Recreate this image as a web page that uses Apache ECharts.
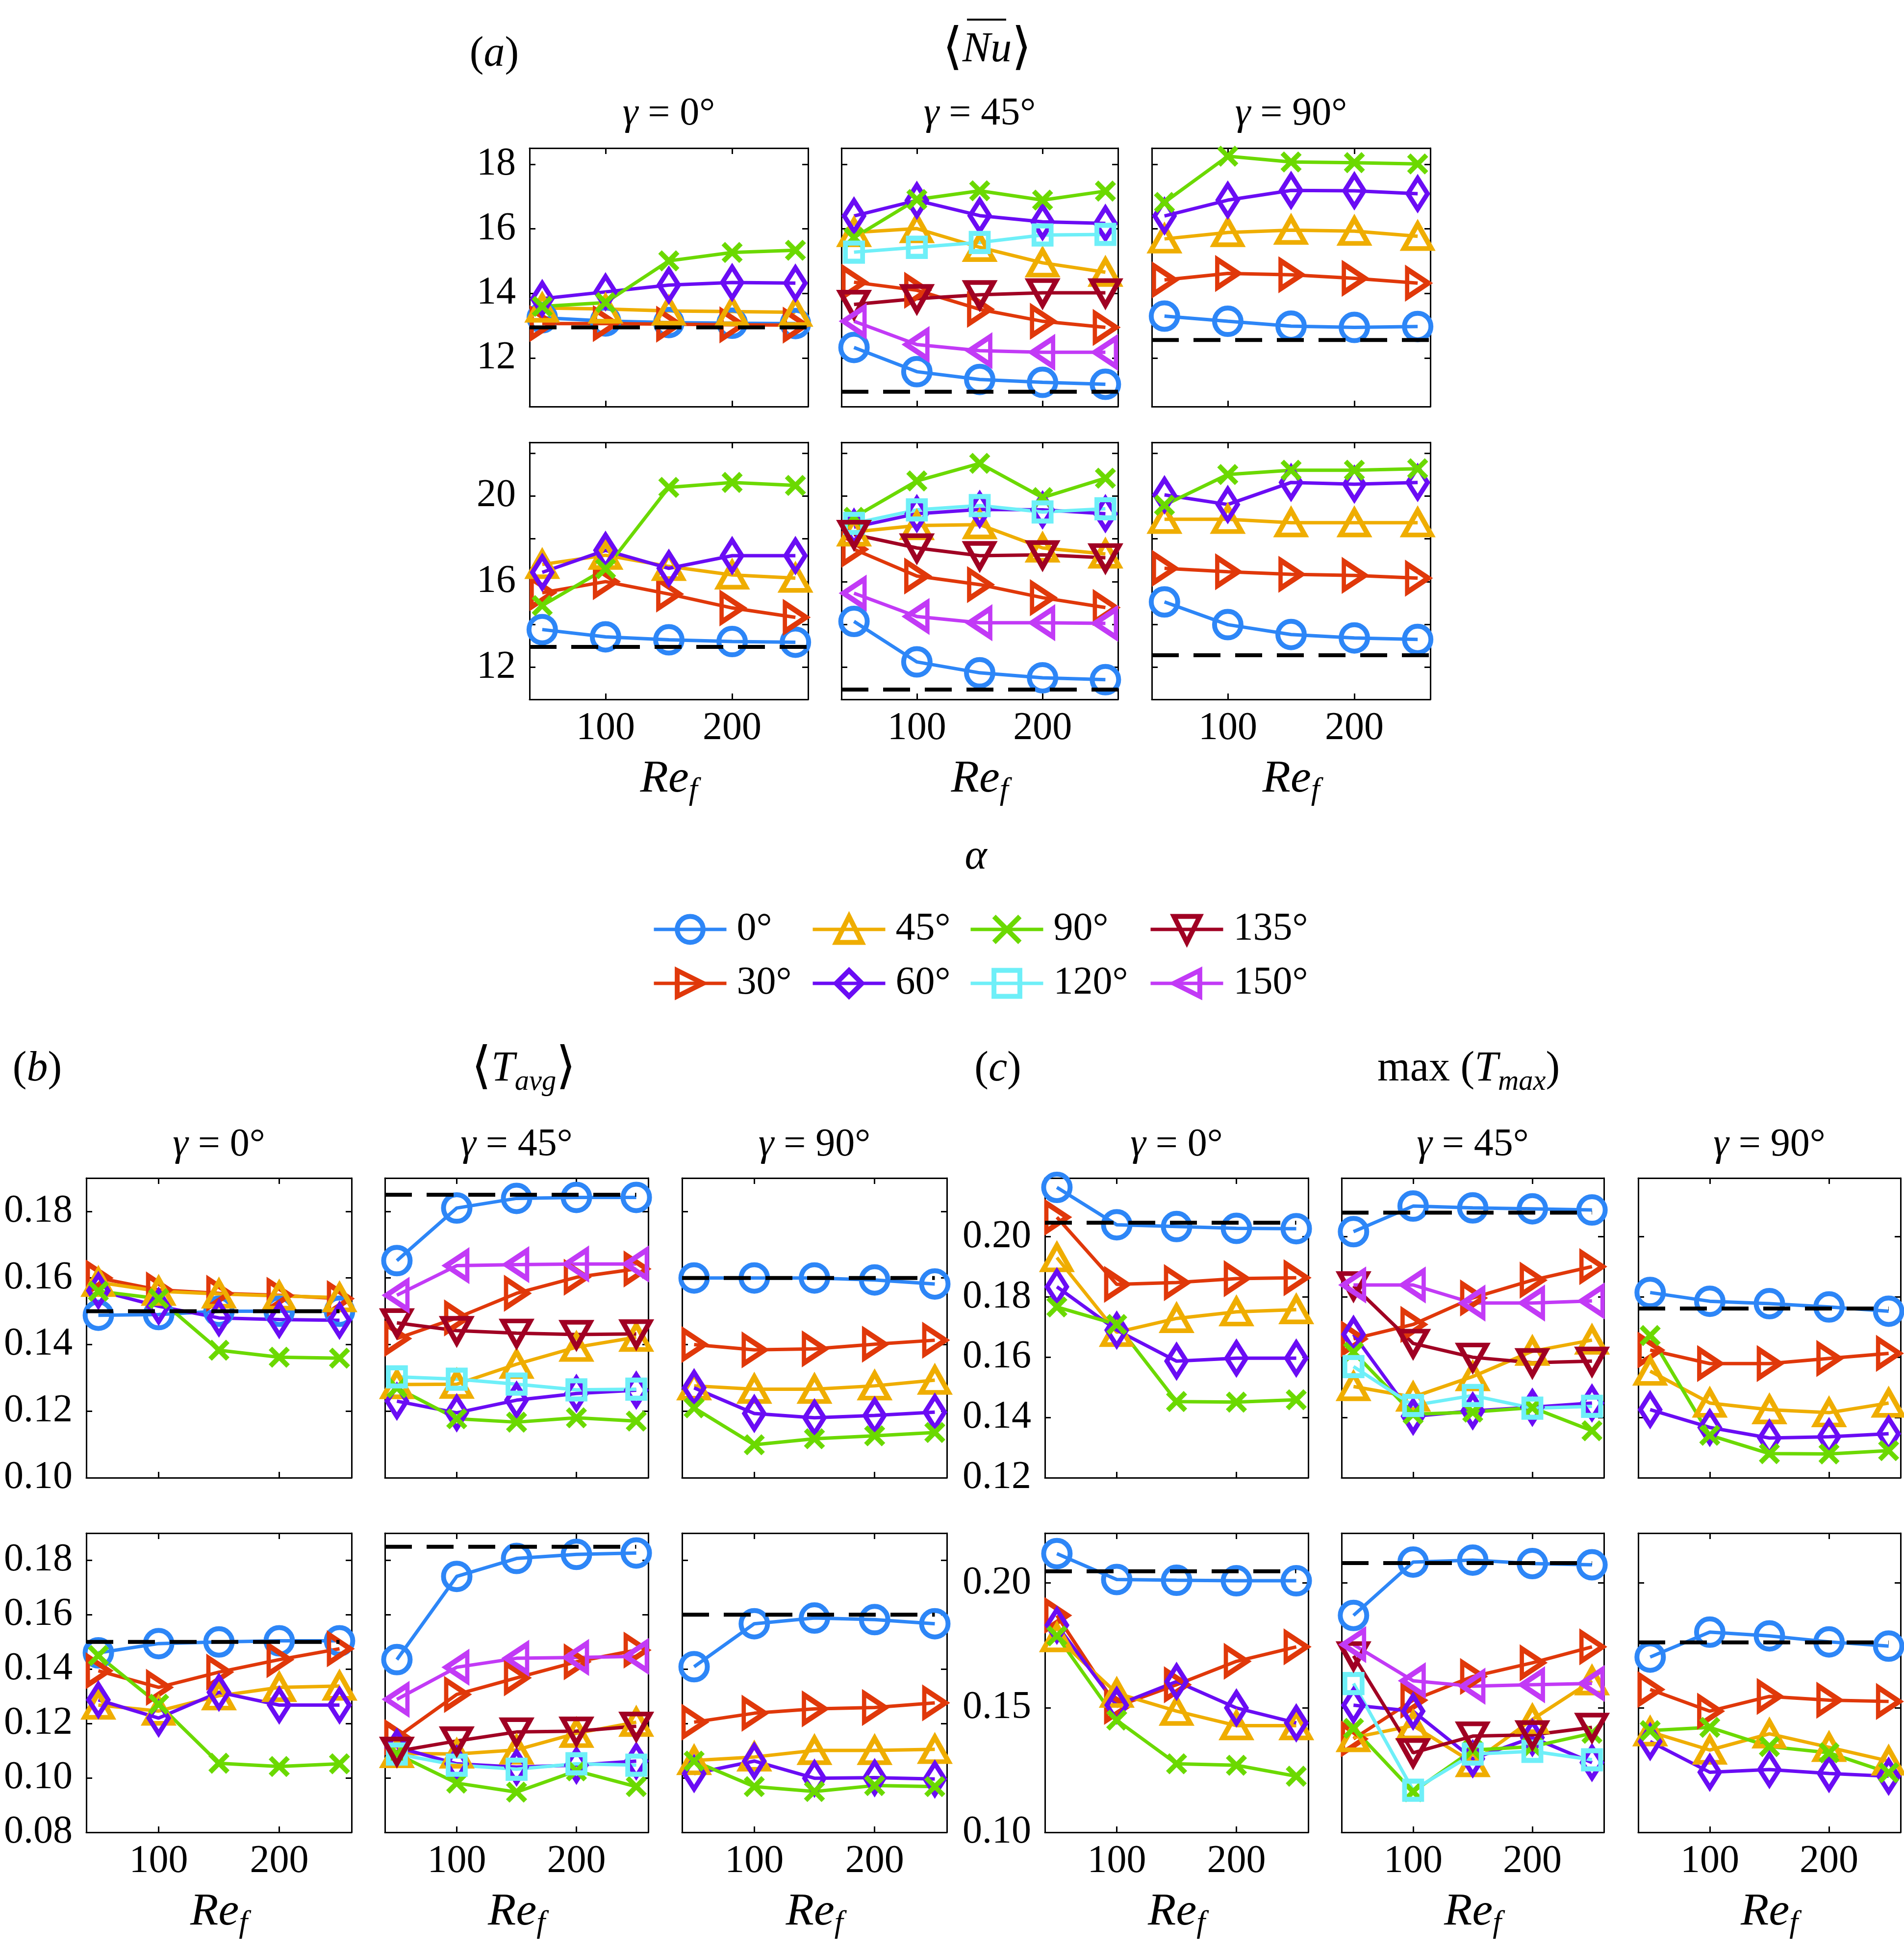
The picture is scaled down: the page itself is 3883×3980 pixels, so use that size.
<!DOCTYPE html>
<html>
<head>
<meta charset="utf-8">
<script src="https://cdn.jsdelivr.net/npm/echarts@6/dist/echarts.min.js"></script>
<style>
  html, body { margin: 0; padding: 0; background: #fff; }
  #chart { width: 3883px; height: 3980px; }
</style>
</head>
<body>
<div id="chart"></div>
<script>
// Reynolds numbers on every x axis
var reValues = [50, 100, 150, 200, 250];
var alphaNames = ['0°', '30°', '45°', '60°', '90°', '120°', '135°', '150°'];
var gammaTitles = ['0°', '45°', '90°'];
var xTickLabels = [100, 200];

// (a) <Nu>, order of rows in each array follows alphaNames
var nuTopG0 = [
  [13.25, 13.15, 13.1, 13.08, 13.07],
  [13.07, 13.07, 13.05, 13.03, 13.02],
  [13.55, 13.52, 13.46, 13.44, 13.42],
  [13.84, 14.05, 14.26, 14.34, 14.32],
  [13.6, 13.72, 15.01, 15.27, 15.34],
  null, null, null
];
var nuTopG45 = [
  [12.33, 11.58, 11.34, 11.25, 11.19],
  [14.35, 14.1, 13.51, 13.14, 12.95],
  [15.89, 16.01, 15.43, 14.95, 14.66],
  [16.4, 16.88, 16.41, 16.22, 16.17],
  [15.73, 16.91, 17.18, 16.89, 17.17],
  [15.28, 15.43, 15.58, 15.81, 15.83],
  [13.66, 13.84, 13.96, 14.02, 14.02],
  [13.14, 12.42, 12.23, 12.18, 12.18]
];
var nuTopG90 = [
  [13.3, 13.14, 12.99, 12.95, 12.98],
  [14.42, 14.62, 14.58, 14.47, 14.32],
  [15.69, 15.89, 15.96, 15.93, 15.77],
  [16.4, 16.89, 17.19, 17.18, 17.09],
  [16.82, 18.25, 18.07, 18.05, 18.01],
  null, null, null
];
var nuBotG0 = [
  [13.76, 13.42, 13.28, 13.2, 13.17],
  [15.48, 16.0, 15.42, 14.77, 14.33],
  [16.8, 17.23, 16.71, 16.31, 16.16],
  [16.43, 17.46, 16.62, 17.21, 17.21],
  [14.88, 16.6, 20.4, 20.63, 20.49],
  null, null, null
];
var nuBotG45 = [
  [14.14, 12.25, 11.74, 11.51, 11.42],
  [17.51, 16.26, 15.86, 15.25, 14.79],
  [18.32, 18.62, 18.66, 17.57, 17.29],
  [18.54, 19.17, 19.37, 19.35, 19.17],
  [19.0, 20.7, 21.52, 19.92, 20.83],
  [18.72, 19.35, 19.55, 19.25, 19.4],
  [18.2, 17.57, 17.21, 17.25, 17.11],
  [15.46, 14.37, 14.08, 14.08, 14.05]
];
var nuBotG90 = [
  [15.05, 13.99, 13.53, 13.37, 13.3],
  [16.62, 16.46, 16.34, 16.29, 16.16],
  [18.91, 18.91, 18.75, 18.75, 18.75],
  [20.05, 19.6, 20.63, 20.55, 20.63],
  [19.57, 21.0, 21.2, 21.2, 21.27],
  null, null, null
];

// (b) <T_avg>
var tavgTopG0 = [
  [0.1488, 0.149, 0.150, 0.150, 0.150],
  [0.160, 0.1564, 0.1554, 0.1548, 0.1538],
  [0.1587, 0.156, 0.1552, 0.1546, 0.1541],
  [0.1562, 0.1515, 0.148, 0.1475, 0.1473],
  [0.156, 0.1538, 0.1383, 0.1362, 0.1359],
  null, null, null
];
var tavgTopG45 = [
  [0.1652, 0.181, 0.1839, 0.1842, 0.1842],
  [0.1418, 0.148, 0.1554, 0.1602, 0.1627],
  [0.128, 0.1281, 0.1341, 0.1392, 0.1422],
  [0.123, 0.1195, 0.1233, 0.1253, 0.1263],
  [0.127, 0.1177, 0.1167, 0.118, 0.117],
  [0.1303, 0.1296, 0.1281, 0.1264, 0.1266],
  [0.1465, 0.1442, 0.1434, 0.143, 0.1432],
  [0.1548, 0.1637, 0.164, 0.1642, 0.1642]
];
var tavgTopG90 = [
  [0.160, 0.160, 0.160, 0.1594, 0.1582],
  [0.140, 0.1384, 0.1387, 0.1401, 0.1413],
  [0.1276, 0.1266, 0.1266, 0.1276, 0.1293],
  [0.127, 0.1193, 0.118, 0.1187, 0.1197],
  [0.121, 0.1099, 0.1117, 0.1126, 0.1136],
  null, null, null
];
var tavgBotG0 = [
  [0.146, 0.1494, 0.150, 0.1504, 0.1504],
  [0.1394, 0.1333, 0.1389, 0.1435, 0.1475],
  [0.1268, 0.1246, 0.1302, 0.1333, 0.1338],
  [0.1287, 0.122, 0.1315, 0.1268, 0.1268],
  [0.145, 0.1271, 0.1054, 0.1042, 0.1052],
  null, null, null
];
var tavgBotG45 = [
  [0.1435, 0.1741, 0.1807, 0.1822, 0.1827],
  [0.1149, 0.1307, 0.1368, 0.1427, 0.147],
  [0.109, 0.1088, 0.1103, 0.1164, 0.1205],
  [0.1113, 0.1052, 0.104, 0.1047, 0.1062],
  [0.1088, 0.0981, 0.0948, 0.1026, 0.0968],
  [0.1088, 0.1047, 0.1032, 0.1052, 0.1047],
  [0.1098, 0.1136, 0.1169, 0.1172, 0.119],
  [0.1289, 0.1407, 0.144, 0.1443, 0.1447]
];
var tavgBotG90 = [
  [0.1409, 0.1567, 0.1588, 0.1582, 0.1567],
  [0.1205, 0.1238, 0.1254, 0.1259, 0.1276],
  [0.1064, 0.1077, 0.1101, 0.1101, 0.1105],
  [0.1016, 0.1062, 0.0999, 0.1001, 0.0996],
  [0.1062, 0.0968, 0.095, 0.0972, 0.0968],
  null, null, null
];

// (c) max(T_max)
var tmaxTopG0 = [
  [0.2164, 0.204, 0.2034, 0.2028, 0.2027],
  [0.2065, 0.1842, 0.1848, 0.1861, 0.1864],
  [0.1931, 0.1683, 0.1729, 0.1751, 0.1758],
  [0.1834, 0.169, 0.1587, 0.1597, 0.1597],
  [0.1767, 0.1709, 0.1453, 0.1451, 0.1459],
  null, null, null
];
var tmaxTopG45 = [
  [0.2017, 0.2102, 0.2096, 0.2093, 0.2089],
  [0.1661, 0.1709, 0.1797, 0.1856, 0.1901],
  [0.1503, 0.1468, 0.1536, 0.162, 0.1657],
  [0.1676, 0.1404, 0.1422, 0.1434, 0.1448],
  [0.1617, 0.1411, 0.1418, 0.1433, 0.1356],
  [0.1569, 0.144, 0.1473, 0.1431, 0.1437],
  [0.1837, 0.1646, 0.16, 0.1582, 0.1587],
  [0.184, 0.184, 0.178, 0.178, 0.1787]
];
var tmaxTopG90 = [
  [0.1815, 0.1786, 0.1778, 0.1767, 0.1753],
  [0.1624, 0.1579, 0.1579, 0.1596, 0.1613],
  [0.1554, 0.1448, 0.1426, 0.1416, 0.1448],
  [0.1426, 0.1367, 0.1332, 0.1336, 0.1346],
  [0.1672, 0.1341, 0.128, 0.1279, 0.129],
  null, null, null
];
var tmaxBotG0 = [
  [0.2118, 0.2014, 0.2011, 0.2009, 0.2009],
  [0.187, 0.1505, 0.1592, 0.1686, 0.1744],
  [0.1781, 0.1558, 0.1486, 0.1428, 0.1428],
  [0.1831, 0.151, 0.1605, 0.1499, 0.1439],
  [0.1788, 0.145, 0.1275, 0.1269, 0.1225],
  null, null, null
];
var tmaxBotG45 = [
  [0.187, 0.2084, 0.2092, 0.2078, 0.2073],
  [0.1375, 0.153, 0.1625, 0.168, 0.1744],
  [0.138, 0.1428, 0.128, 0.1453, 0.1608],
  [0.151, 0.1486, 0.1295, 0.138, 0.128],
  [0.1417, 0.1163, 0.133, 0.1344, 0.1397],
  [0.1597, 0.1169, 0.1314, 0.1325, 0.1291],
  [0.1708, 0.1319, 0.1386, 0.1391, 0.1421],
  [0.1753, 0.1608, 0.1586, 0.1592, 0.1597]
];
var tmaxBotG90 = [
  [0.1703, 0.1803, 0.1788, 0.1764, 0.1747],
  [0.1573, 0.1486, 0.1545, 0.153, 0.1525],
  [0.1403, 0.133, 0.1395, 0.1341, 0.1286],
  [0.1364, 0.1241, 0.1252, 0.1236, 0.1225],
  [0.1408, 0.1421, 0.1344, 0.1319, 0.1239],
  null, null, null
];

// dashed reference levels, one per gamma
var nuRef = [12.95, 10.96, 12.56];
var tavgRef = [0.150, 0.185, 0.160];
var tmaxRef = [0.2047, 0.2080, 0.1762];

// y tick labels
var nuTopTicks = [12, 14, 16, 18];
var nuBotTicks = [12, 16, 20];
var tavgTopTicks = [0.10, 0.12, 0.14, 0.16, 0.18];
var tavgBotTicks = [0.08, 0.10, 0.12, 0.14, 0.16, 0.18];
var tmaxTopTicks = [0.12, 0.14, 0.16, 0.18, 0.20];
var tmaxBotTicks = [0.10, 0.15, 0.20];

var FONT = '"Liberation Serif", "Times New Roman", serif';
var alphaColors = ['#2D86F7', '#E0380A', '#EFAD00', '#6A0CF4', '#6BD900', '#6EEFF8', '#A00023', '#C23AF6'];
var alphaSymbols = [
  'circle',
  'path://M0,0L10,5L0,10Z',
  'path://M5,0L10,10L0,10Z',
  'diamond',
  'path://M0,0L10,10M10,0L0,10',
  'rect',
  'path://M0,0L10,0L5,10Z',
  'path://M10,0L0,5L10,10Z'
];
var alphaSizes = [54, [43, 57], [56, 50], [40, 63], [36, 36], [35, 37], [56, 50], [43, 57]];
var LINE_W = 7, MARK_W = 10;

var blocks = [
  {
    panels: [[nuTopG0, nuTopG45, nuTopG90], [nuBotG0, nuBotG45, nuBotG90]],
    ref: nuRef, refEnd: 260, digits: 0,
    yMin: [10.5, 10.5], yMax: [18.5, 22.5], split: [4, 6], ticks: [nuTopTicks, nuBotTicks],
    cols: [[1080, 1648], [1716, 2280], [2349, 2917]],
    rows: [[302, 829], [902, 1426]]
  },
  {
    panels: [[tavgTopG0, tavgTopG45, tavgTopG90], [tavgBotG0, tavgBotG45, tavgBotG90]],
    ref: tavgRef, refEnd: 250, digits: 2,
    yMin: [0.10, 0.08], yMax: [0.19, 0.19], split: [5, 5], ticks: [tavgTopTicks, tavgBotTicks],
    cols: [[176, 717], [785, 1322], [1391, 1931]],
    rows: [[2402, 3013], [3126, 3736]]
  },
  {
    panels: [[tmaxTopG0, tmaxTopG45, tmaxTopG90], [tmaxBotG0, tmaxBotG45, tmaxBotG90]],
    ref: tmaxRef, refEnd: 250, digits: 2,
    yMin: [0.12, 0.10], yMax: [0.2195, 0.22], split: [5, 3], ticks: [tmaxTopTicks, tmaxBotTicks],
    cols: [[2131, 2668], [2736, 3271], [3341, 3876]],
    rows: [[2402, 3013], [3126, 3736]]
  }
];

function inList(v, list) {
  for (var k = 0; k < list.length; k++) {
    if (Math.abs(v - list[k]) < 1e-9) return true;
  }
  return false;
}

function richFor(size) {
  return {
    i: { fontSize: size, fontFamily: FONT, fontStyle: 'italic', lineHeight: size * 1.3, color: '#000' },
    n: { fontSize: size, fontFamily: FONT, lineHeight: size * 1.3, color: '#000' },
    b: { fontSize: size * 1.2, fontFamily: '"DejaVu Serif", serif', lineHeight: size * 1.3, color: '#000' },
    s: { fontSize: size * 0.68, fontFamily: FONT, fontStyle: 'italic', lineHeight: size * 0.68, verticalAlign: 'bottom', color: '#000' }
  };
}

function label(x, y, text, size) {
  return {
    type: 'text', x: x, y: y, silent: true,
    style: {
      text: text, fontSize: size, fontFamily: FONT, fill: '#000',
      align: 'center', verticalAlign: 'middle',
      textAlign: 'center', textVerticalAlign: 'middle',
      rich: richFor(size)
    }
  };
}

var grids = [], xAxes = [], yAxes = [], series = [], graphics = [];
var axisLineStyle = { show: true, onZero: false, lineStyle: { color: '#000', width: 3 } };
var axisTickStyle = { show: true, inside: true, length: 12, lineStyle: { color: '#000', width: 3 } };

blocks.forEach(function (blk, b) {
  for (var r = 0; r < 2; r++) {
    for (var c = 0; c < 3; c++) {
      var g = grids.length;
      var col = blk.cols[c], row = blk.rows[r];
      grids.push({ left: col[0], top: row[0], width: col[1] - col[0], height: row[1] - row[0], containLabel: false });

      var ticks = blk.ticks[r], digits = blk.digits;
      var showX = r === 1;
      xAxes.push({
        type: 'value', gridIndex: g, position: 'bottom', min: 40, max: 260, splitNumber: 2,
        axisLine: axisLineStyle, axisTick: axisTickStyle, splitLine: { show: false },
        axisLabel: {
          show: showX, margin: 20, fontSize: 80, fontFamily: FONT, color: '#000',
          formatter: function (v) { return inList(v, xTickLabels) ? String(v) : ''; }
        },
        name: showX ? '{i|Re}{s|f}' : '', nameLocation: 'middle', nameGap: 108,
        nameTextStyle: {
          rich: {
            i: { fontSize: 94, fontFamily: FONT, fontStyle: 'italic', lineHeight: 110, color: '#000' },
            s: { fontSize: 64, fontFamily: FONT, fontStyle: 'italic', lineHeight: 64, verticalAlign: 'bottom', color: '#000' }
          }
        }
      });
      xAxes.push({
        type: 'value', gridIndex: g, position: 'top', min: 40, max: 260, splitNumber: 2,
        axisLine: axisLineStyle, axisTick: axisTickStyle, splitLine: { show: false },
        axisLabel: { show: false }
      });
      (function (ticks, digits) {
        yAxes.push({
          type: 'value', gridIndex: g, position: 'left',
          min: blk.yMin[r], max: blk.yMax[r], splitNumber: blk.split[r],
          axisLine: axisLineStyle, axisTick: axisTickStyle, splitLine: { show: false },
          axisLabel: {
            show: c === 0, margin: 28, fontSize: 80, fontFamily: FONT, color: '#000',
            formatter: function (v) { return inList(v, ticks) ? v.toFixed(digits) : ''; }
          }
        });
      })(ticks, digits);
      yAxes.push({
        type: 'value', gridIndex: g, position: 'right',
        min: blk.yMin[r], max: blk.yMax[r], splitNumber: blk.split[r],
        axisLine: axisLineStyle, axisTick: axisTickStyle, splitLine: { show: false },
        axisLabel: { show: false }
      });

      var panel = blk.panels[r][c];
      panel.forEach(function (vals, a) {
        if (!vals) return;
        series.push({
          type: 'line', name: alphaNames[a],
          xAxisIndex: 2 * g, yAxisIndex: 2 * g,
          data: reValues.map(function (x, k) { return [x, vals[k]]; }),
          symbol: alphaSymbols[a], symbolSize: alphaSizes[a], showAllSymbol: true,
          lineStyle: { color: alphaColors[a], width: LINE_W },
          itemStyle: { color: 'rgba(0,0,0,0)', borderColor: alphaColors[a], borderWidth: MARK_W },
          emphasis: { disabled: true }, animation: false, z: 2
        });
      });
      series.push({
        type: 'line', name: 'ref',
        xAxisIndex: 2 * g, yAxisIndex: 2 * g,
        data: [[40, blk.ref[c]], [blk.refEnd, blk.ref[c]]],
        symbol: 'none',
        lineStyle: { color: '#000', width: 8, type: [55, 30] },
        emphasis: { disabled: true }, animation: false, z: 3
      });

      // gamma title over each top-row panel
      if (r === 0) {
        var ty = b === 0 ? 233 : 2335;
        graphics.push(label((col[0] + col[1]) / 2, ty, '{i|γ} = ' + gammaTitles[c], 80));
      }
    }
  }
});

graphics.push(label(1008, 111, '({i|a})', 86));
graphics.push(label(2013, 102, '{b|⟨}{i|Nu}{b|⟩}', 86));
graphics.push({ type: 'line', silent: true, shape: { x1: 1972, y1: 40, x2: 2052, y2: 40 }, style: { stroke: '#000', lineWidth: 4 } });
graphics.push(label(1990, 1748, '{i|α}', 86));
graphics.push(label(76, 2180, '({i|b})', 86));
graphics.push(label(1068, 2180, '{b|⟨}{i|T}{s|avg}{b|⟩}', 86));
graphics.push(label(2035, 2180, '({i|c})', 86));
graphics.push(label(2995, 2180, '{n|max (}{i|T}{s|max}{n|)}', 86));

var legendCols = [[0, 1], [2, 3], [4, 5], [6, 7]];
var legendLeft = [1325, 1649, 1971, 2338];
var legends = legendCols.map(function (pair, k) {
  return {
    data: [alphaNames[pair[0]], alphaNames[pair[1]]],
    orient: 'vertical', left: legendLeft[k], top: 1850,
    itemWidth: 148, itemHeight: 66, itemGap: 30, selectedMode: false,
    lineStyle: { width: LINE_W },
    itemStyle: { borderWidth: MARK_W },
    textStyle: { fontSize: 80, fontFamily: FONT, color: '#000', padding: [0, 0, 0, 16] }
  };
});

var chart = echarts.init(document.getElementById('chart'));
chart.setOption({
  animation: false,
  backgroundColor: '#fff',
  grid: grids,
  xAxis: xAxes,
  yAxis: yAxes,
  legend: legends,
  graphic: graphics,
  series: series
});
</script>
</body>
</html>
